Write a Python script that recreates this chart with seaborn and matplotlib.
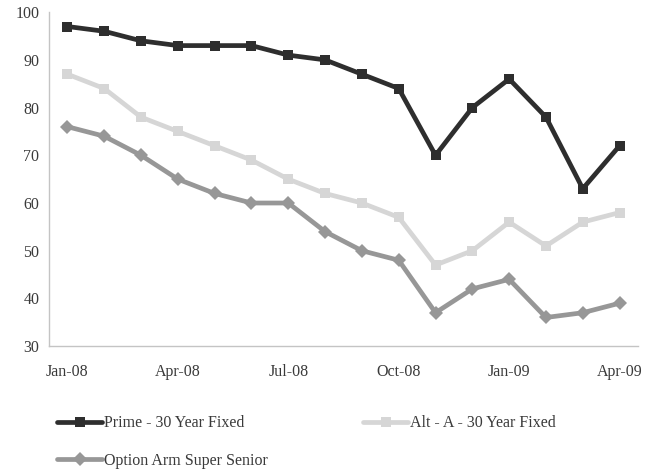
import pandas as pd
import matplotlib
matplotlib.use('Agg')
import matplotlib.pyplot as plt
import seaborn as sns

months = ['Jan-08', 'Feb-08', 'Mar-08', 'Apr-08', 'May-08', 'Jun-08', 'Jul-08', 'Aug-08',
          'Sep-08', 'Oct-08', 'Nov-08', 'Dec-08', 'Jan-09', 'Feb-09', 'Mar-09', 'Apr-09']
prime = [97, 96, 94, 93, 93, 93, 91, 90, 87, 84, 70, 80, 86, 78, 63, 72]
alt_a = [87, 84, 78, 75, 72, 69, 65, 62, 60, 57, 47, 50, 56, 51, 56, 58]
option_arm = [76, 74, 70, 65, 62, 60, 60, 54, 50, 48, 37, 42, 44, 36, 37, 39]
series_names = ['Prime - 30 Year Fixed', 'Alt - A - 30 Year Fixed', 'Option Arm Super Senior']

rows = []
for name, vals in zip(series_names, [prime, alt_a, option_arm]):
   for i, v in enumerate(vals):
      rows.append({'idx': i, 'value': v, 'series': name})
df = pd.DataFrame(rows)

sns.set_style('white')
plt.rcParams['font.family'] = ['Liberation Serif', 'DejaVu Serif']

fig = plt.figure(figsize=(6.51, 4.69), dpi=100)
ax = fig.add_axes([0.0753, 0.262, 0.9047, 0.712])

palette = {series_names[0]: '#2e2e2e', series_names[1]: '#d6d6d6', series_names[2]: '#979797'}
markers = {series_names[0]: 's', series_names[1]: 's', series_names[2]: 'D'}
sns.lineplot(data=df, x='idx', y='value', hue='series', style='series', palette=palette,
             markers=markers, dashes=False, linewidth=3.4, markersize=7, markeredgewidth=0,
             legend=False, ax=ax)

ax.set_xlim(-0.5, 15.5)
ax.set_ylim(30, 100)
ax.set_yticks(range(30, 101, 10))
ax.set_xticks([i - 0.5 for i in range(0, 16, 3)] + [15.5], minor=False)
ax.set_xticklabels([])
ax.set_xticks(range(0, 16, 3), minor=True)
ax.set_xticklabels([months[i] for i in range(0, 16, 3)], minor=True)
ax.tick_params(axis='x', which='major', length=4, color='#bbbbbb', direction='out')
ax.tick_params(axis='x', which='minor', length=0, pad=13, labelsize=11.5, labelcolor='#3a3a3a')
ax.tick_params(axis='y', length=4, color='#bbbbbb', direction='out', labelsize=11.5,
               labelcolor='#3a3a3a', pad=3)
ax.set_xlabel('')
ax.set_ylabel('')
for s in ['top', 'right']:
   ax.spines[s].set_visible(False)
for s in ['left', 'bottom']:
   ax.spines[s].set_color('#c4c4c4')
   ax.spines[s].set_linewidth(1)

# legend fills column-wise: Prime, Option (col 1), Alt-A (col 2)
order = [series_names[0], series_names[2], series_names[1]]
handles = [plt.Line2D([], [], color=palette[n], marker=markers[n], lw=3.4, ms=7, mew=0)
           for n in order]
fig.legend(handles, order, loc='lower left', bbox_to_anchor=(0.066, -0.03), ncol=2,
           frameon=False, fontsize=11.5, handlelength=2.8, handletextpad=0.1,
           columnspacing=6.0, labelspacing=1.35, labelcolor='#3a3a3a')

plt.savefig('out.png', dpi=100)
